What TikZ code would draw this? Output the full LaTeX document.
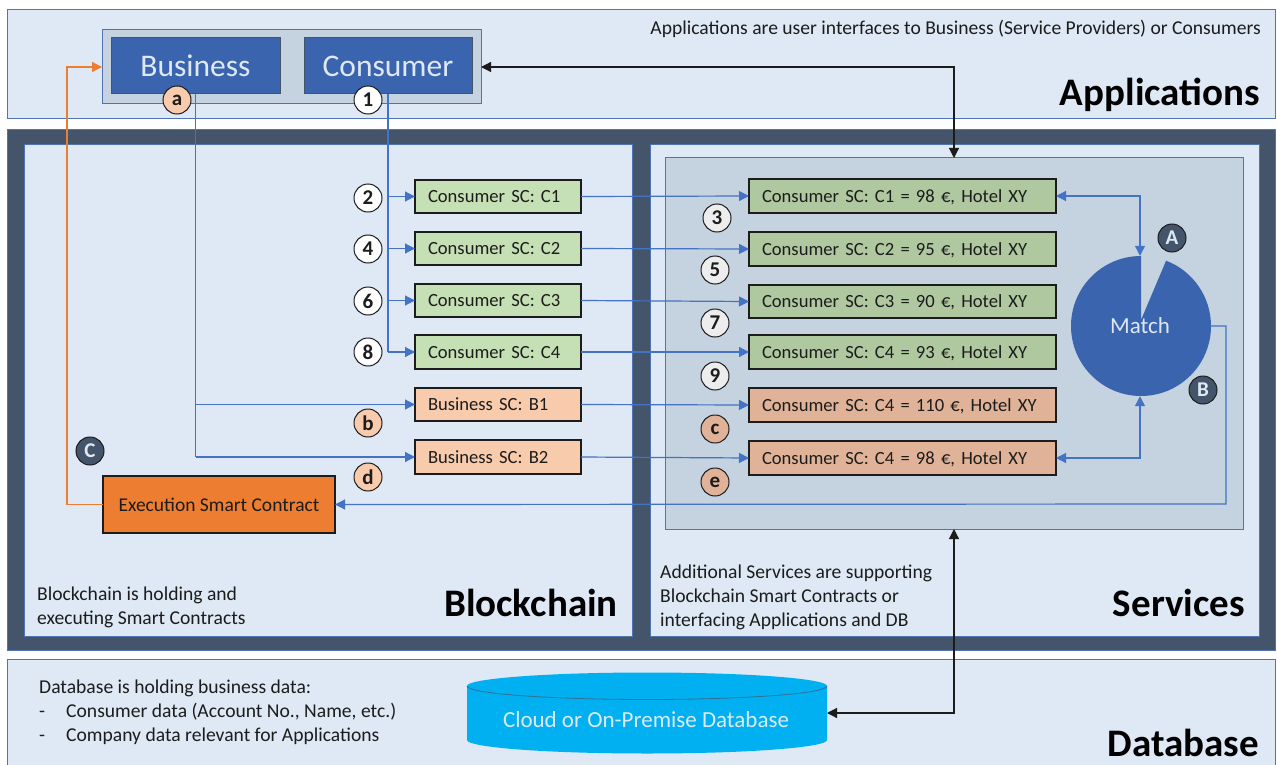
\documentclass[tikz,border=0pt]{standalone}
\usepackage{fontspec}
\setmainfont{Carlito}
\usetikzlibrary{arrows.meta}
\definecolor{panelfill}{HTML}{DEE9F5}
\definecolor{panelline}{HTML}{4F74B0}
\definecolor{frame}{HTML}{44546A}
\definecolor{greyblue}{HTML}{C5D2E0}
\definecolor{royal}{HTML}{3A64AE}
\definecolor{lgreen}{HTML}{C5E0B4}
\definecolor{dgreen}{HTML}{AFC8A0}
\definecolor{lpeach}{HTML}{F8CBAD}
\definecolor{dpeach}{HTML}{E0B398}
\definecolor{orangeb}{HTML}{ED7D31}
\definecolor{conn}{HTML}{4472C4}
\definecolor{cylblue}{HTML}{00B0F0}
\definecolor{ink}{HTML}{1C1C1C}
\newcommand{\bx}[7]{\node[#2,minimum width={(#5-#3)*1pt},minimum height={(#6-#4)*1pt}] (#1) at ({(#3+#5)/2},{(#4+#6)/2}) {#7};}
\tikzset{
  base/.style={rectangle,inner sep=0pt,outer sep=0pt,text=ink},
  panel/.style={base,fill=panelfill,draw=panelline,line width=1pt},
  darkframe/.style={base,fill=frame,draw=panelline,line width=1pt},
  group/.style={base,fill=greyblue,draw=panelline,line width=1pt},
  appbox/.style={base,fill=royal,draw=frame,line width=1pt,text=panelfill,font=\fontsize{31.5}{34}\selectfont},
  sc/.style={base,draw=ink,line width=1.2pt,inner xsep=13pt,align=left,font=\fontsize{18.6}{21}\selectfont,text height=14pt,text depth=2pt},
  leftsc/.style={sc,text width=140pt},
  rightsc/.style={sc,text width=281pt},
  exec/.style={base,fill=orangeb,draw=ink,line width=1.2pt,font=\fontsize{19.5}{22}\selectfont},
  badge/.style={circle,inner sep=0pt,minimum size=28pt,draw=ink,line width=1pt,text=ink,font=\fontsize{21}{22}\selectfont\bfseries},
  dbadge/.style={badge,fill=frame,text=panelfill},
  note/.style={inner sep=0pt,text=ink,align=left,anchor=north west,font=\fontsize{19.6}{24}\selectfont},
  heading/.style={inner sep=0pt,text=black,anchor=base east,font=\fontsize{39}{42}\selectfont\bfseries},
  bluearrow/.style={draw=conn,line width=1.2pt,-{Triangle[length=10pt,width=10pt]}},
  blueline/.style={draw=conn,line width=1.2pt},
  bluedouble/.style={draw=conn,line width=1.2pt,{Triangle[length=10pt,width=10pt]}-{Triangle[length=10pt,width=10pt]}},
  blackdouble/.style={draw=ink,line width=1.2pt,{Triangle[length=10pt,width=10pt]}-{Triangle[length=10pt,width=10pt]}},
  orangearrow/.style={draw=orangeb,line width=1.2pt,-{Triangle[length=10pt,width=10pt]}},
}
\begin{document}
\begin{tikzpicture}[x=1pt,y=-1pt]
\useasboundingbox (0,0) rectangle (1277,765);
% panels
\bx{apps}{panel}{7}{10}{1275}{119}{}
\bx{dark}{darkframe}{7}{130}{1275}{650}{}
\bx{chain}{panel}{24}{145}{632}{636}{}
\bx{serv}{panel}{650}{145}{1259}{636}{}
\path[fill=panelfill] (7,659) rectangle (1275,765);
\draw[panelline,line width=1pt] (7,765) -- (7,659) -- (1275,659) -- (1275,765);
\bx{group}{group}{102}{30}{481}{104}{}
\bx{svc}{group}{665}{158}{1243}{529}{}
% application boxes
\bx{business}{appbox}{111}{38}{280}{94}{Business}
\bx{consumer}{appbox}{304}{38}{472}{94}{Consumer}
% contract boxes
\bx{c1}{leftsc,fill=lgreen}{415}{180}{581}{213}{Consumer SC: C1}
\bx{c2}{leftsc,fill=lgreen}{415}{232}{581}{265}{Consumer SC: C2}
\bx{c3}{leftsc,fill=lgreen}{415}{284}{581}{317}{Consumer SC: C3}
\bx{c4}{leftsc,fill=lgreen}{415}{335}{581}{369}{Consumer SC: C4}
\bx{b1}{leftsc,fill=lpeach}{415}{388}{581}{421}{Business SC: B1}
\bx{b2}{leftsc,fill=lpeach}{415}{440}{581}{474}{Business SC: B2}
\bx{r1}{rightsc,fill=dgreen}{749}{179}{1056}{213}{Consumer SC: C1 = 98 €, Hotel XY}
\bx{r2}{rightsc,fill=dgreen}{749}{232}{1056}{266}{Consumer SC: C2 = 95 €, Hotel XY}
\bx{r3}{rightsc,fill=dgreen}{749}{285}{1056}{318}{Consumer SC: C3 = 90 €, Hotel XY}
\bx{r4}{rightsc,fill=dgreen}{749}{335}{1056}{369}{Consumer SC: C4 = 93 €, Hotel XY}
\bx{r5}{rightsc,fill=dpeach}{749}{388}{1056}{422}{Consumer SC: C4 = 110 €, Hotel XY}
\bx{r6}{rightsc,fill=dpeach}{749}{441}{1056}{475}{Consumer SC: C4 = 98 €, Hotel XY}
\bx{exec}{exec}{103}{476}{335}{533}{Execution Smart Contract}
% match pie
\begin{scope}[shift={(1141,326)},x=1pt,y=1pt]
\fill[royal] (0,70) arc[start angle=90,end angle=429,radius=70pt] -- (0,6) -- cycle;
\end{scope}
\node[circle,inner sep=0pt,minimum size=140pt,text=panelfill,font=\fontsize{23}{26}\selectfont] (match) at (1140,326) {Match};
% database
\fill[cylblue] (467,686) -- (467,740) arc[x radius=180pt,y radius=13.5pt,start angle=180,end angle=360] -- (827,686) arc[x radius=180pt,y radius=13.5pt,start angle=0,end angle=180] -- cycle;
\draw[frame!70!cylblue,line width=.8pt] (467,686) arc[x radius=180pt,y radius=13.5pt,start angle=180,end angle=360];
\node[rectangle,inner sep=0pt,outer sep=0pt,minimum width=360pt,minimum height=81pt] (db) at (647,713) {};
\node[inner sep=0pt,text=panelfill,font=\fontsize{23}{26}\selectfont] (dblabel) at (646,720) {Cloud or On-Premise Database};
% helper coordinates
\coordinate (orangebend) at (67,300);
\coordinate (outbend) at (1226,504);
% connectors
\draw[blueline] (consumer.south) -- (consumer.south |- c4.west);
\draw[bluearrow] (consumer.south |- c1.west) -- (c1.west);
\draw[bluearrow] (consumer.south |- c2.west) -- (c2.west);
\draw[bluearrow] (consumer.south |- c3.west) -- (c3.west);
\draw[bluearrow] (consumer.south |- c4.west) -- (c4.west);
\draw[blueline] (business.south) -- (business.south |- b2.west);
\draw[bluearrow] (business.south |- b1.west) -- (b1.west);
\draw[bluearrow] (business.south |- b2.west) -- (b2.west);
\draw[bluearrow] (c1.east) -- (r1.west);
\draw[bluearrow] (c2.east) -- (r2.west);
\draw[bluearrow] (c3.east) -- (r3.west);
\draw[bluearrow] (c4.east) -- (r4.west);
\draw[bluearrow] (b1.east) -- (r5.west);
\draw[bluearrow] (b2.east) -- (r6.west);
\draw[bluedouble] (r1.east) -| (match.north);
\draw[bluedouble] (r6.east) -| (match.south);
\draw[bluearrow] (match.east) -| (outbend) -- (exec.east);
\draw[orangearrow] (exec.west) -| (orangebend) |- (group.west);
\draw[blackdouble] (group.east) -| (svc.north);
\draw[blackdouble] (svc.south) |- (db.east);
% badges
\node[badge,fill=lpeach] (ba) at (177,100) {a};
\node[badge,fill=white] (n1) at (368,100) {1};
\node[badge,fill=white] (n2) at (368,198) {2};
\node[badge,fill=white] (n4) at (368,249) {4};
\node[badge,fill=white] (n6) at (368,301) {6};
\node[badge,fill=white] (n8) at (368,352) {8};
\node[badge,fill=lpeach] (bb) at (368,423) {b};
\node[badge,fill=lpeach] (bd) at (368,477) {d};
\node[badge,fill=black!7] (n3) at (717,218) {3};
\node[badge,fill=black!7] (n5) at (715,270) {5};
\node[badge,fill=black!7] (n7) at (715,323) {7};
\node[badge,fill=black!7] (n9) at (715,376) {9};
\node[badge,fill=dpeach] (bc) at (715,429) {c};
\node[badge,fill=dpeach] (be) at (715,482) {e};
\node[dbadge] (uA) at (1172,238) {A};
\node[dbadge] (uB) at (1203,390) {B};
\node[dbadge] (uC) at (90,451) {C};
% notes
\node[note,anchor=north east] (n-apps) at (1261,20) {Applications are user interfaces to Business (Service Providers) or Consumers};
\node[note] (n-chain) at (37,587) {Blockchain is holding and\\executing Smart Contracts};
\node[note] (n-serv) at (660,565) {Additional Services are supporting\\Blockchain Smart Contracts or\\interfacing Applications and DB};
\node[note] (n-db) at (39,680) {Database is holding business data:\\-\hspace{21pt}Consumer data (Account No., Name, etc.)\\-\hspace{21pt}Company data relevant for Applications};
% headings
\node[heading] (h-apps) at (1260,106) {Applications};
\node[heading] (h-chain) at (618,616) {Blockchain};
\node[heading] (h-serv) at (1245,616) {Services};
\node[heading] (h-db) at (1259,756) {Database};
\end{tikzpicture}
\end{document}
